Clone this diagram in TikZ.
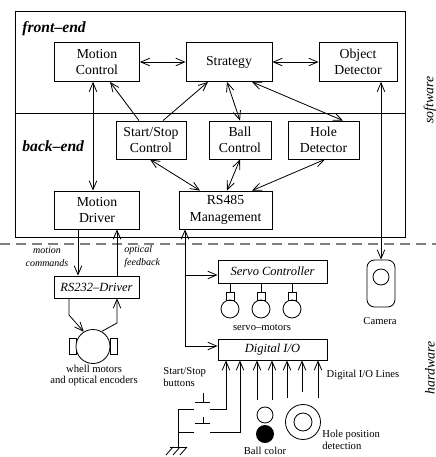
\documentclass[tikz,border=0pt]{standalone}
\usepackage{fontspec}
\setmainfont{Liberation Serif}
\usetikzlibrary{arrows.meta, positioning}
\tikzset{
  sz/.style 2 args={minimum width=#1*0.8pt, minimum height=#2*0.8pt},
  blk/.style={draw, align=center, inner sep=0pt, font=\fontsize{11}{13}\selectfont},
  hwblk/.style={draw, inner sep=0pt, font=\fontsize{10}{12}\selectfont\itshape},
  lbl/.style={align=center, inner sep=0pt, font=\fontsize{8.5}{9.5}\selectfont},
  ilbl/.style={inner sep=0pt, font=\fontsize{8}{10.5}\selectfont\itshape},
  layer/.style={inner sep=0pt, font=\fontsize{12.5}{15}\selectfont\bfseries\itshape},
  side/.style={rotate=90, inner sep=0pt, font=\fontsize{11}{13}\selectfont\itshape},
  link/.style={{Straight Barb[length=7pt,width=6pt]}-{Straight Barb[length=7pt,width=6pt]}},
  feed/.style={-{Straight Barb[length=7pt,width=6pt]}},
}

\begin{document}
\begin{tikzpicture}[x=0.8pt, y=-0.8pt, line width=0.65pt]
  \useasboundingbox (0,0) rectangle (436,457);

  % software part
  \draw (15,11) rectangle (405,237);
  \draw (15,113) -- (405,113);
  \node[layer, anchor=west] (fe) at (22,29) {front--end};
  \node[layer, anchor=west] (be) at (22,146) {back--end};

  \node[blk, sz={85}{39}] (mc) at (97,62) {Motion\\Control};
  \node[blk, sz={86}{39}] (strat) at (229,62) {Strategy};
  \node[blk, sz={78}{39}] (objdet) at (358,62) {Object\\Detector};

  \node[blk, sz={70}{38}] (ssc) at (151,140) {Start/Stop\\Control};
  \node[blk, sz={62}{38}] (bc) at (240,140) {Ball\\Control};
  \node[blk, sz={71}{38}] (hd) at (323.5,140) {Hole\\Detector};

  \node[blk, sz={85}{38}] (md) at (97,210) {Motion\\Driver};
  \node[blk, sz={93}{38}] (rs485) at (225.5,210) {RS485\\Management};

  \draw[link] (mc) -- (strat);
  \draw[link] (strat) -- (objdet);
  \draw[link] (mc.south -| 93,0) -- (md.north -| 93,0);
  \draw[feed] (ssc.north -| 139,0) -- (mc.south -| 110,0);
  \draw[feed] (ssc.north -| 163,0) -- (strat.south -| 208,0);
  \draw[link] (strat.south -| 227,0) -- (bc.north -| 240,0);
  \draw[link] (strat.south -| 252,0) -- (hd.north -| 343,0);
  \draw[link] (ssc.south -| 150,0) -- (rs485.north -| 200,0);
  \draw[link] (bc.south -| 240,0) -- (rs485.north -| 227,0);
  \draw[link] (hd.south -| 325,0) -- (rs485.north -| 252,0);

  % software / hardware border
  \draw[gray, line width=1.2pt, dash pattern=on 8pt off 4.8pt] (0,244) -- (436,244);
  \node[side] (sw) at (430,100) {software};
  \node[side] (hw) at (430,368) {hardware};

  % wheel motors
  \node[hwblk, sz={85}{22}] (rs232) at (96.5,287) {RS232--Driver};
  \draw[feed] (md.south -| 78,0) -- (rs232.north -| 78,0);
  \draw[feed] (rs232.north -| 117,0) -- (md.south -| 117,0);
  \node[ilbl, align=center] (cmd) at (47,257) {motion\\commands};
  \node[ilbl, align=left, anchor=west] (fb) at (124,257) {optical\\feedback};
  \draw (69,338) rectangle (76,354);
  \draw (110,338) rectangle (117,354);
  \node[draw, circle, fill=white, inner sep=0pt, minimum size=27.2pt] (motor) at (93,346.5) {};
  \draw[feed] (rs232.south -| 69,0) -- (69,315) -- (motor.122);
  \draw[feed] (motor.60) -- (117,323) -- (rs232.south -| 117,0);
  \node[lbl] (mlbl) at (94,375.5) {whell motors\\and optical encoders};

  % camera
  \node[draw, rounded corners=6pt, sz={28}{47}] (cam) at (381,283.5) {};
  \draw (381,277) circle (8);
  \draw[link] (objdet.south -| 381,0) -- (cam.north);
  \node[lbl] (camlbl) at (380,321) {Camera};

  % servos
  \node[hwblk, sz={109}{23}] (servo) at (272.5,271.5) {Servo Controller};
  \foreach \sx in {230,261,292} {
    \draw (servo.south -| \sx,0) -- (\sx,292);
    \draw (\sx-4,292) rectangle (\sx+4,300);
    \draw (\sx,309) circle (9);
  }
  \node[lbl] (srvlbl) at (262,328) {servo--motors};

  % digital I/O
  \node[hwblk, sz={109}{21}] (dio) at (272.5,349.5) {Digital I/O};
  \draw[link] (rs485.south -| 185,0) |- (dio.west |- 0,346);
  \draw[feed] (185,275) -- (servo.west |- 0,275);
  \node[lbl] (diolbl) at (363,375) {Digital I/O Lines};

  % start/stop buttons
  \node[lbl, align=left, anchor=north west] (btnlbl) at (163,367) {Start/Stop\\buttons};
  \draw (178,409) -- (194,409);
  \draw (178,432) -- (194,432);
  \draw (195,402) -- (210,402) (203,393) -- (203,402);
  \draw (195,423) -- (210,423) (203,417) -- (203,423);
  \draw[feed] (210,409) -| (dio.south -| 226,0);
  \draw[feed] (210,432) -| (dio.south -| 240,0);
  \draw (178,409) -- (178,447);
  \draw (170,447) -- (187,447);
  \foreach \gx in {173,180,187}
    \draw (\gx,447) -- (\gx-7,455);

  % ball colour sensor
  \draw[feed] (257,400) -- (dio.south -| 257,0);
  \draw[feed] (272,400) -- (dio.south -| 272,0);
  \draw (265,415) circle (8);
  \fill (265,434) circle (9);
  \node[lbl] (balllbl) at (265,451) {Ball color};

  % hole position sensor
  \draw[feed] (287,398) -- (dio.south -| 287,0);
  \draw[feed] (302,392) -- (dio.south -| 302,0);
  \draw[feed] (318,398) -- (dio.south -| 318,0);
  \draw (303,422) circle (17.5) (303,422) circle (9);
  \node[lbl, align=left, anchor=west] (holelbl) at (322,440) {Hole position\\detection};
\end{tikzpicture}
\end{document}
